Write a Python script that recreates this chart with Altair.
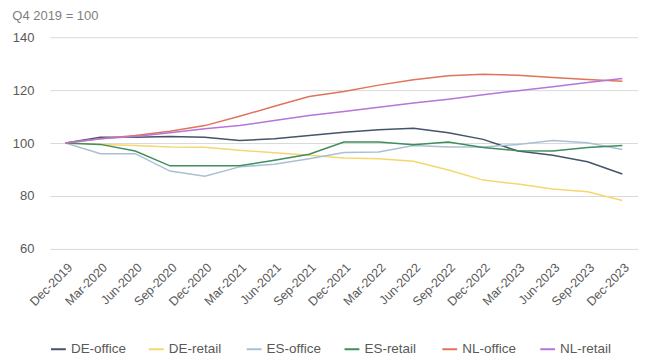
import altair as alt
import pandas as pd

quarters = ["Dec-2019", "Mar-2020", "Jun-2020", "Sep-2020", "Dec-2020", "Mar-2021",
            "Jun-2021", "Sep-2021", "Dec-2021", "Mar-2022", "Jun-2022", "Sep-2022",
            "Dec-2022", "Mar-2023", "Jun-2023", "Sep-2023", "Dec-2023"]

de_office = [100, 102.2, 102.2, 102.5, 102.2, 101.0, 101.6, 102.9, 104.1, 105.0, 105.6,
             103.9, 101.4, 97.0, 95.4, 92.9, 88.3]
de_retail = [100, 99.5, 99.1, 98.5, 98.4, 97.3, 96.3, 95.4, 94.4, 94.1, 93.1,
             89.8, 86.0, 84.5, 82.6, 81.6, 78.3]
es_office = [100, 96.0, 96.0, 89.4, 87.5, 91.0, 92.0, 94.1, 96.4, 96.6, 99.1,
             98.5, 98.5, 99.5, 101.0, 100.1, 97.6]
es_retail = [100, 99.5, 97.0, 91.4, 91.4, 91.4, 93.5, 95.8, 100.4, 100.4, 99.4,
             100.4, 98.3, 97.1, 97.0, 98.3, 99.1]
nl_office = [100, 101.6, 102.9, 104.5, 106.6, 110.1, 113.9, 117.6, 119.5, 121.9, 123.9,
             125.4, 126.0, 125.6, 124.8, 124.0, 123.4]
nl_retail = [100, 101.6, 102.5, 103.9, 105.4, 106.6, 108.5, 110.4, 111.9, 113.5, 115.1,
             116.6, 118.3, 119.8, 121.3, 122.9, 124.4]

series_names = ["DE-office", "DE-retail", "ES-office", "ES-retail", "NL-office", "NL-retail"]
series_values = [de_office, de_retail, es_office, es_retail, nl_office, nl_retail]
series_colors = ["#44546A", "#F5D76E", "#A9C0D3", "#3E8E5E", "#E0735A", "#B775D8"]

rows = []
for name, vals in zip(series_names, series_values):
    for q, v in zip(quarters, vals):
        rows.append({"quarter": q, "value": v, "series": name})
df = pd.DataFrame(rows)

FONT = "Liberation Sans"

chart = alt.Chart(df).mark_line(strokeWidth=1.5).encode(
    x=alt.X("quarter:N", sort=quarters,
            scale=alt.Scale(type="point", padding=0.45),
            axis=alt.Axis(title=None, labelAngle=-45, labelFontSize=12.5,
                          labelColor="#595959", domain=False, ticks=False,
                          labelPadding=12, labelFont=FONT)),
    y=alt.Y("value:Q", scale=alt.Scale(domain=[60, 140], nice=False, zero=False),
            axis=alt.Axis(title=None, values=[60, 80, 100, 120, 140], domain=False,
                          ticks=False, labelFontSize=13, labelColor="#595959",
                          gridColor="#D9D9D9", labelPadding=16, labelFont=FONT)),
    color=alt.Color("series:N", sort=series_names,
                    scale=alt.Scale(domain=series_names, range=series_colors),
                    legend=alt.Legend(title=None, orient="bottom", direction="horizontal",
                                      columns=6, gridAlign="all",
                                      symbolType="stroke", symbolStrokeWidth=2,
                                      symbolSize=220, labelFontSize=13.5,
                                      labelColor="#595959", columnPadding=18,
                                      offset=32, labelFont=FONT)),
).properties(
    width=589, height=212,
    title=alt.TitleParams("Q4 2019 = 100", anchor="start", frame="bounds",
                          fontSize=13, fontWeight="normal", color="#7F7F7F",
                          font=FONT, offset=8),
    padding={"left": 4, "top": 2, "right": 0, "bottom": 0},
).configure_view(stroke=None)

chart.save("out.html", embed_options={"renderer": "svg", "actions": False})
